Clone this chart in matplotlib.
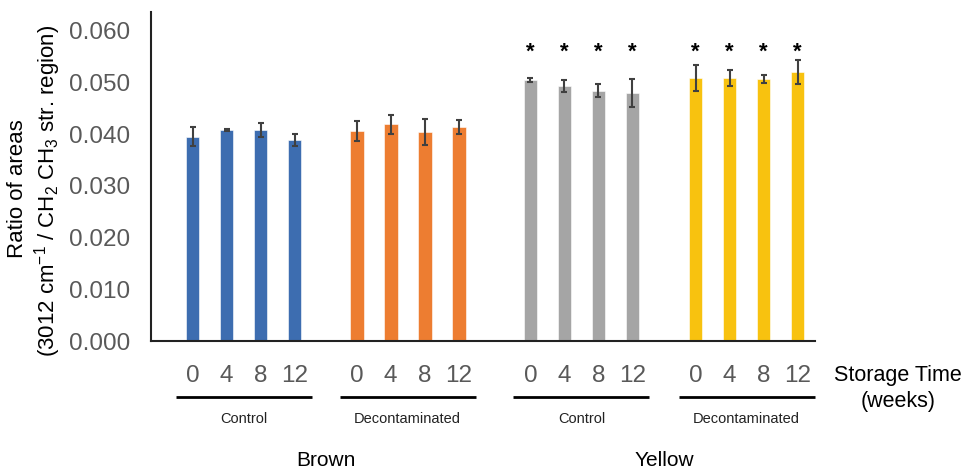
import numpy as np
import matplotlib.pyplot as plt

plt.rcParams['font.family'] = ['Liberation Sans', 'DejaVu Sans']
plt.rcParams['mathtext.fontset'] = 'custom'
plt.rcParams['mathtext.rm'] = 'Liberation Sans'

# data
weeks = ['0', '4', '8', '12']
treatments = ['Control', 'Decontaminated', 'Control', 'Decontaminated']
varieties = ['Brown', 'Yellow']

brown_control = [0.0395, 0.0408, 0.0408, 0.0388]
brown_control_err = [0.0018, 0.0002, 0.0013, 0.0012]
brown_decon = [0.0406, 0.0419, 0.0404, 0.0414]
brown_decon_err = [0.0020, 0.0018, 0.0026, 0.0013]
yellow_control = [0.0505, 0.0493, 0.0484, 0.0479]
yellow_control_err = [0.0004, 0.0012, 0.0012, 0.0027]
yellow_decon = [0.0508, 0.0508, 0.0506, 0.0520]
yellow_decon_err = [0.0025, 0.0016, 0.0008, 0.0023]
significant = [False, False, True, True]

series = [brown_control, brown_decon, yellow_control, yellow_decon]
errors = [brown_control_err, brown_decon_err, yellow_control_err, yellow_decon_err]
colors = ['#3D6DB0', '#ED7D31', '#A5A5A5', '#F8C20F']
group_starts = [0, 4.83, 9.94, 14.8]

fig = plt.figure(figsize=(9.65, 4.71), dpi=100)
ax_left, ax_bottom, ax_right, ax_top = 150.7, 341, 815, 12
ax_h = ax_bottom - ax_top
ax = fig.add_axes([ax_left / 965, (471 - ax_bottom) / 471,
                   (ax_right - ax_left) / 965, ax_h / 471])

tick_pos = []
tick_lab = []
for g, (vals, errs, col, start) in enumerate(zip(series, errors, colors, group_starts)):
    x = start + np.arange(len(vals))
    ax.bar(x, vals, width=0.4, color=col, edgecolor='white', linewidth=0.4)
    ax.errorbar(x, vals, yerr=errs, fmt='none', ecolor='#404040',
                elinewidth=1.5, capsize=2.5, capthick=1.5)
    if significant[g]:
        for xi in x:
            ax.text(xi, 0.0558, '*', ha='center', va='center', fontsize=16,
                    color='black', fontweight='bold')
    tick_pos.extend(x)
    tick_lab.extend(weeks)

ax.set_xlim(-1.23, 18.31)
ax.set_ylim(0, 0.0636)
ax.set_yticks(np.arange(0, 0.061, 0.01))
ax.set_yticklabels([f'{v:.3f}' for v in np.arange(0, 0.061, 0.01)])
ax.tick_params(axis='y', length=0, pad=15, labelsize=17.5, labelcolor='#595959')
ax.set_xticks([])
for side in ['top', 'right']:
    ax.spines[side].set_visible(False)
for side in ['left', 'bottom']:
    ax.spines[side].set_linewidth(1.5)
    ax.spines[side].set_color('#222222')

xt = ax.get_xaxis_transform()
# week labels under the bars
for xp, lab in zip(tick_pos, tick_lab):
    ax.text(xp, -35 / ax_h, lab, transform=xt, ha='center', va='center',
            fontsize=17.5, color='#595959')

# treatment bracket lines and names
for start, name in zip(group_starts, treatments):
    ax.plot([start - 0.5, start + 3.5], [-56 / ax_h] * 2, transform=xt,
            color='black', lw=2, clip_on=False, solid_capstyle='butt')
    ax.text(start + 1.5, -78 / ax_h, name, transform=xt, ha='center', va='center',
            fontsize=10.5, color='#222222')

# variety names
for i, name in enumerate(varieties):
    mid = (group_starts[2 * i] - 0.5 + group_starts[2 * i + 1] + 3.5) / 2
    ax.text(mid, -119 / ax_h, name, transform=xt, ha='center', va='center',
            fontsize=15, color='black')

fig.text(898 / 965, 1 - 375 / 471, 'Storage Time', ha='center', va='center', fontsize=15.5)
fig.text(898 / 965, 1 - 402 / 471, '(weeks)', ha='center', va='center', fontsize=15.5)

fig.text(18 / 965, 1 - 189 / 471, 'Ratio of areas', rotation=90,
         ha='center', va='center', fontsize=16)
fig.text(48 / 965, 1 - 191 / 471,
         r'(3012 cm$\mathregular{^{-1}}$ / CH$\mathregular{_2}$ CH$\mathregular{_3}$ str. region)',
         rotation=90, ha='center', va='center', fontsize=16)

fig.savefig('out.png', dpi=100)
